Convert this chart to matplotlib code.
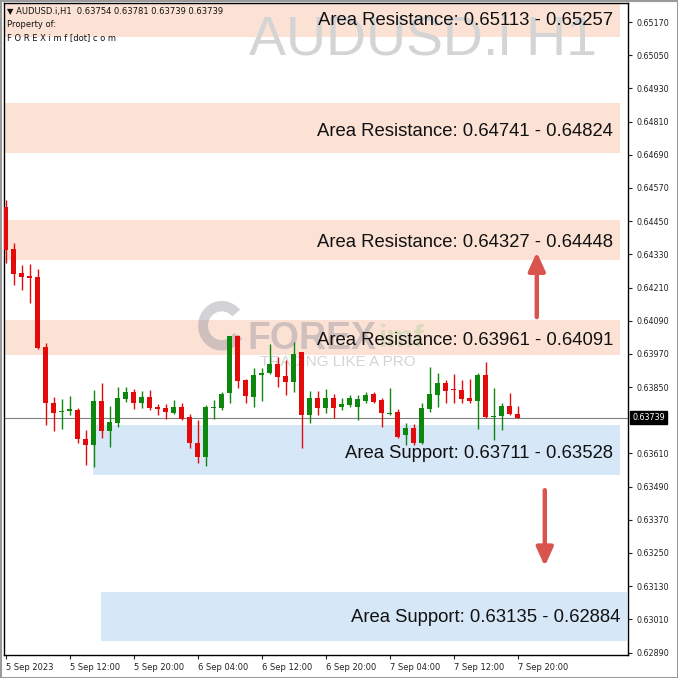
import numpy as np
import pandas as pd
import matplotlib
matplotlib.use("Agg")
import matplotlib.pyplot as plt
from matplotlib.patches import Wedge
from matplotlib.transforms import blended_transform_factory

# Candles, AUDUSD.i H1
opens = [0.64501, 0.64349, 0.64262, 0.64251, 0.64248, 0.63995, 0.63792, 0.63759, 0.63763, 0.63767,
         0.63662, 0.63640, 0.63799, 0.63691, 0.63720, 0.63806, 0.63832, 0.63792, 0.63814, 0.63778,
         0.63774, 0.63756, 0.63778, 0.63741, 0.63647, 0.63597, 0.63774, 0.63774, 0.63828, 0.64034,
         0.63875, 0.63814, 0.63893, 0.63900, 0.63933, 0.63890, 0.63868, 0.63976, 0.63749, 0.63810,
         0.63774, 0.63810, 0.63778, 0.63785, 0.63778, 0.63799, 0.63825, 0.63803, 0.63752, 0.63759,
         0.63676, 0.63702, 0.63647, 0.63770, 0.63821, 0.63864, 0.63843, 0.63839, 0.63810, 0.63799,
         0.63893, 0.63741, 0.63745, 0.63781, 0.63754]
highs = [0.64526, 0.64371, 0.64291, 0.64295, 0.64277, 0.64009, 0.63814, 0.63806, 0.63817, 0.63774,
         0.63694, 0.63839, 0.63864, 0.63781, 0.63850, 0.63850, 0.63843, 0.63835, 0.63839, 0.63788,
         0.63788, 0.63803, 0.63792, 0.63752, 0.63730, 0.63785, 0.63803, 0.63832, 0.64036, 0.64038,
         0.63879, 0.63919, 0.63919, 0.64005, 0.63958, 0.63948, 0.64013, 0.63978, 0.63835, 0.63835,
         0.63843, 0.63825, 0.63810, 0.63821, 0.63821, 0.63832, 0.63832, 0.63810, 0.63846, 0.63770,
         0.63720, 0.63716, 0.63792, 0.63922, 0.63900, 0.63875, 0.63897, 0.63875, 0.63879, 0.63900,
         0.63940, 0.63846, 0.63792, 0.63828, 0.63781]
lows = [0.64298, 0.64219, 0.64201, 0.64154, 0.63988, 0.63712, 0.63691, 0.63698, 0.63749, 0.63647,
        0.63568, 0.63560, 0.63665, 0.63633, 0.63705, 0.63796, 0.63770, 0.63774, 0.63767, 0.63749,
        0.63734, 0.63752, 0.63730, 0.63629, 0.63575, 0.63564, 0.63734, 0.63767, 0.63792, 0.63846,
        0.63792, 0.63778, 0.63799, 0.63898, 0.63850, 0.63821, 0.63832, 0.63629, 0.63720, 0.63749,
        0.63756, 0.63738, 0.63767, 0.63778, 0.63730, 0.63792, 0.63792, 0.63705, 0.63749, 0.63665,
        0.63640, 0.63640, 0.63644, 0.63759, 0.63778, 0.63792, 0.63792, 0.63792, 0.63792, 0.63698,
        0.63739, 0.63658, 0.63694, 0.63749, 0.63739]
closes = [0.64345, 0.64259, 0.64248, 0.64244, 0.63991, 0.63792, 0.63756, 0.63763, 0.63770, 0.63662,
          0.63640, 0.63799, 0.63691, 0.63723, 0.63810, 0.63832, 0.63792, 0.63814, 0.63774, 0.63770,
          0.63759, 0.63778, 0.63734, 0.63647, 0.63597, 0.63778, 0.63778, 0.63825, 0.64034, 0.63872,
          0.63817, 0.63893, 0.63900, 0.63933, 0.63886, 0.63868, 0.63969, 0.63749, 0.63810, 0.63774,
          0.63810, 0.63774, 0.63788, 0.63810, 0.63806, 0.63821, 0.63796, 0.63756, 0.63756, 0.63669,
          0.63702, 0.63647, 0.63774, 0.63825, 0.63864, 0.63835, 0.63839, 0.63806, 0.63799, 0.63893,
          0.63741, 0.63745, 0.63781, 0.63752, 0.63739]

START_TIME = "2023-09-05 04:00"
CURRENT_PRICE = 0.63739

# zones: drawn extents (as seen) and their label text
res_zone_lo = [0.65116, 0.64696, 0.64309, 0.63966]
res_zone_hi = [0.65260, 0.64877, 0.64454, 0.64092]
res_labels = ["0.65113 - 0.65257", "0.64741 - 0.64824", "0.64327 - 0.64448", "0.63961 - 0.64091"]
res_label_y = [0.65177, 0.64776, 0.64374, 0.64020]

sup_zone_lo = [0.63532, 0.62932]
sup_zone_hi = [0.63713, 0.63109]
sup_labels = ["0.63711 - 0.63528", "0.63135 - 0.62884"]
sup_label_y = [0.63611, 0.63018]

price_ticks = [0.62890, 0.63010, 0.63130, 0.63250, 0.63370, 0.63490, 0.63610,
               0.63850, 0.63970, 0.64090, 0.64210, 0.64330, 0.64450, 0.64570,
               0.64690, 0.64810, 0.64930, 0.65050, 0.65170]

# arrows (bar index, price)
arrow_up = ((66.4, 0.64103), (66.4, 0.64338))
arrow_down = ((67.4, 0.63477), (67.4, 0.63202))

GREEN = "#0e870e"
RED = "#e20a0a"
RES_COLOR = "#fbe2d5"
SUP_COLOR = "#d6e8f8"
ARROW_COLOR = "#d9534f"


def main():
    n = len(opens)
    times = pd.date_range(START_TIME, periods=n, freq="h")
    x = np.arange(n)
    o = np.array(opens)
    h = np.array(highs)
    l = np.array(lows)
    c = np.array(closes)

    fig = plt.figure(figsize=(6.78, 6.78), dpi=100)
    fig.patch.set_facecolor("white")
    ax = fig.add_axes([4 / 678, 23 / 678, 624 / 678, 652 / 678])
    ax.set_xlim(-0.19, 77.8)
    ax.set_ylim(0.62881, 0.65239)

    trans = blended_transform_factory(ax.transAxes, ax.transData)

    # zones
    for lo, hi in zip(res_zone_lo, res_zone_hi):
        ax.fill_between([0.0, 0.987], lo, hi, color=RES_COLOR, lw=0, transform=trans, zorder=0)
    ax.fill_between([0.143, 0.987], sup_zone_lo[0], sup_zone_hi[0], color=SUP_COLOR, lw=0,
                    transform=trans, zorder=0)
    ax.fill_between([0.155, 0.998], sup_zone_lo[1], sup_zone_hi[1], color=SUP_COLOR, lw=0,
                    transform=trans, zorder=0)

    # watermarks
    ax.text(0.392, 0.65105, "AUDUSD.i H1", transform=trans, fontsize=40,
            family="Liberation Sans", color="#d4d4d4", va="center", ha="left", zorder=1)
    ax.add_patch(Wedge((0.349, 0.505), 0.038, 40, 330, width=0.016, transform=ax.transAxes,
                       color="#8f8f9c", alpha=0.4, lw=0, zorder=1))
    ax.text(0.390, 0.64023, "FOREX", transform=trans, fontsize=27, fontweight="bold",
            family="Liberation Sans", color="#8f8f9c", alpha=0.4, va="center", zorder=1)
    ax.text(0.600, 0.64023, "imf", transform=trans, fontsize=22, fontweight="bold",
            family="Liberation Sans", color="#7cc47c", alpha=0.25, va="center", zorder=1)
    ax.text(0.410, 0.63940, "TRADING LIKE A PRO", transform=trans, fontsize=11,
            family="Liberation Sans", color="#b8b8b8", alpha=0.6, va="center", zorder=1)

    # current price line
    ax.axhline(CURRENT_PRICE, color="#808080", lw=0.8, zorder=2)

    # candles
    up = c >= o
    cols = np.where(up, GREEN, RED)
    ax.vlines(x, l, h, colors=cols, lw=1.0, zorder=3)
    body_lo = np.minimum(o, c)
    body_h = np.maximum(np.abs(c - o), 0.00004)
    ax.bar(x, body_h, bottom=body_lo, width=0.62, color=cols, lw=0, zorder=4)

    # zone labels
    for txt, yv in zip(res_labels, res_label_y):
        ax.text(0.976, yv, "Area Resistance: " + txt, transform=trans, ha="right", va="center",
                fontsize=13.3, family="Liberation Sans", color="#111111", zorder=6)
    ax.text(0.976, sup_label_y[0], "Area Support: " + sup_labels[0], transform=trans,
            ha="right", va="center", fontsize=13.3, family="Liberation Sans", color="#111111", zorder=6)
    ax.text(0.987, sup_label_y[1], "Area Support: " + sup_labels[1], transform=trans,
            ha="right", va="center", fontsize=13.3, family="Liberation Sans", color="#111111", zorder=6)

    # arrows
    for (x0, y0), (x1, y1) in (arrow_up, arrow_down):
        ax.annotate("", xy=(x1, y1), xytext=(x0, y0),
                    arrowprops=dict(arrowstyle="-|>,head_length=1.1,head_width=0.5",
                                    color=ARROW_COLOR, lw=3.2, shrinkA=0, shrinkB=0),
                    zorder=6)

    # header text
    ax.text(0.005, 0.9875, "\u25bc AUDUSD.i,H1  0.63754 0.63781 0.63739 0.63739",
            transform=ax.transAxes, fontsize=6, va="center", ha="left", color="#111111", zorder=7)
    ax.text(0.005, 0.9675, "Property of:", transform=ax.transAxes, fontsize=6,
            va="center", ha="left", color="#111111", zorder=7)
    ax.text(0.005, 0.9475, "F O R E X i m f [dot] c o m", transform=ax.transAxes, fontsize=6,
            va="center", ha="left", color="#111111", zorder=7)

    # price axis
    ax.yaxis.tick_right()
    ax.set_yticks(price_ticks)
    ax.set_yticklabels([f"{p:.5f}" for p in price_ticks])
    ax.tick_params(axis="y", length=3, width=0.8, pad=3, labelsize=5.8, colors="#222222")
    ax.annotate(f"{CURRENT_PRICE:.5f}", xy=(1.007, CURRENT_PRICE), xycoords=trans,
                fontsize=5.8, color="white", va="center", ha="left", annotation_clip=False,
                bbox=dict(boxstyle="square,pad=0.25", fc="black", ec="black"), zorder=8)

    # time axis
    tick_idx = [i for i in range(n) if i == 0 or (times[i].hour % 8 == 4 and i % 8 == 0)]
    labels = []
    for i in tick_idx:
        t = times[i]
        if i == 0:
            labels.append(f"{t.day} {t:%b %Y}")
        else:
            labels.append(f"{t.day} {t:%b %H:%M}")
    ax.set_xticks(tick_idx)
    ax.set_xticklabels(labels, ha="left")
    ax.tick_params(axis="x", length=3, width=0.8, pad=3, labelsize=6, colors="#222222")

    for s in ax.spines.values():
        s.set_color("black")
        s.set_linewidth(1.0)

    # outer frame
    fig.add_artist(plt.Rectangle((0.5 / 678, 0.5 / 678), 677 / 678, 677 / 678, fill=False,
                                 ec="#9a9a9a", lw=1.5, transform=fig.transFigure))

    fig.savefig("out.png", dpi=100)
    plt.close(fig)


if __name__ == "__main__":
    main()
